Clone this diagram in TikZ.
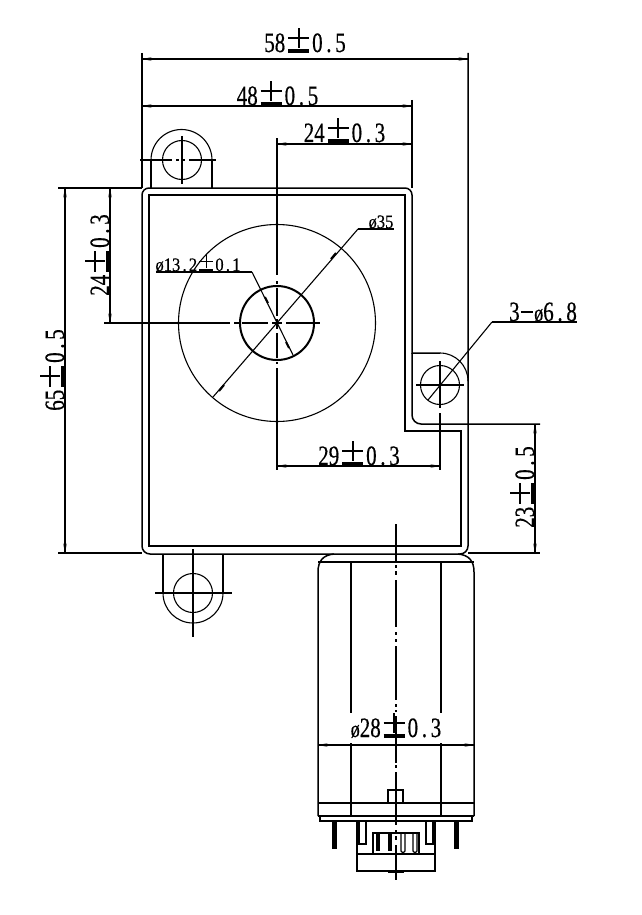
\documentclass[tikz,border=0pt]{standalone}
\usepackage{fontspec}
\usepackage{graphicx}
\usetikzlibrary{arrows.meta}
\newfontfamily\dimfont[FakeStretch=0.75,FakeBold=0.4]{Liberation Serif}
\newfontfamily\smallfont[FakeStretch=0.87,FakeBold=0.3]{Liberation Serif}
\newcommand{\pmk}{\kern.1em\rlap{\rule[-.03em]{.76em}{.13em}}\rlap{\rule[.48em]{.76em}{.06em}}\kern.35em\rule[.15em]{.06em}{.72em}\kern.35em\kern.1em}
\newcommand{\dotk}{\hbox to .45em{\hss.\hss}}
\newcommand{\dashk}{\kern.04em\rule[.3em]{.42em}{.05em}\kern.06em}
\newcommand{\oslk}{{\fontsize{24}{24}\selectfont\dimfont ø}}
\newcommand{\bigdim}[1]{{\fontsize{28}{28}\selectfont\dimfont #1}}
\newcommand{\smalldim}[1]{{\fontsize{19}{19}\selectfont\smallfont #1}}
\newcommand{\dimline}[2]{\draw[tipline] #1 -- #2; \draw[ln] #1 -- #2;}
\tikzset{
  x=1pt,y=-1pt,
  ln/.style={line width=1.5pt,line cap=butt},
  thin ln/.style={line width=1.1pt},
  tipline/.style={line width=0.4pt,draw=gray,{Stealth[length=10pt,width=4pt,gray]}-{Stealth[length=10pt,width=4pt,gray]}},
  lbl/.style={inner sep=0pt,anchor=base},
}
\begin{document}
\begin{tikzpicture}
\useasboundingbox (0,0) rectangle (641,915);
\fill[white] (0,0) rectangle (641,915);

% body outlines
\draw[ln] (142,195) arc[start angle=180,end angle=270,radius=7] -- (405,188) arc[start angle=270,end angle=360,radius=7] -- (412,353) -- (440,353);
\draw[thin ln] (440,353) arc[start angle=270,end angle=360,radius=28];
\draw[ln] (468,53) -- (468,546) arc[start angle=0,end angle=90,radius=8] -- (150,554) arc[start angle=90,end angle=180,radius=8] -- (142,195);
\draw[ln] (149,195) -- (405,195) -- (405,431) -- (461,431) -- (461,546) -- (149,546) -- cycle;
\draw[ln] (412,353) -- (412,415) arc[start angle=180,end angle=90,radius=9] -- (540,424);

% top lug
\draw[ln] (151,188) -- (151,160);
\draw[ln] (212,160) -- (212,188);
\draw[thin ln] (151,160) arc[start angle=180,end angle=360,radius=30.5];
\draw[thin ln] (182,160) circle[radius=19.5];
\draw[ln] (140,160) -- (172,160) (176,160) -- (179,160) (183,160) -- (185,160) (189,160) -- (216,160);
\draw[ln] (182,136) -- (182,184);

% bottom lug
\draw[ln] (163,554) -- (163,593);
\draw[ln] (223,593) -- (223,554);
\draw[thin ln] (163,593) arc[start angle=180,end angle=0,radius=30];
\draw[thin ln] (193,593) circle[radius=19.5];
\draw[ln] (155,593) -- (232,593);
\draw[ln] (193,549) -- (193,637);

% right lug hole
\draw[thin ln] (440,385) circle[radius=19.5];
\draw[ln] (416,385) -- (464,385);
\draw[ln] (440,361) -- (440,408);
\draw[ln] (440,413) -- (440,470);

% central circles
\draw[thin ln] (277,323) circle[radius=98.5];
\draw[line width=2pt] (277,323) circle[radius=37];
\draw[ln] (104,323) -- (230,323) (234,323) -- (239,323) (242,323) -- (268,323) (272,323) -- (282,323) (286,323) -- (320,323);
\draw[ln] (277,138) -- (277,275) (277,281) -- (277,284) (277,288) -- (277,316) (277,319) -- (277,329) (277,333) -- (277,358) (277,362) -- (277,364) (277,368) -- (277,470);

% extension lines
\draw[ln] (142,53) -- (142,188);
\draw[ln] (412,100) -- (412,188);
\draw[ln] (58,188) -- (142,188);
\draw[ln] (58,553) -- (142,553);
\draw[ln] (468,553) -- (540,553);

% dimension lines
\dimline{(142,59)}{(468,59)}
\dimline{(142,106)}{(412,106)}
\dimline{(277,144)}{(412,144)}
\dimline{(65,188)}{(65,553)}
\dimline{(110,188)}{(110,323)}
\dimline{(277,466)}{(440,466)}
\dimline{(535,424)}{(535,553)}
\dimline{(318,745)}{(474,745)}

% leaders
\draw[thin ln] (428,400) -- (492,322);
\draw[ln] (492,322) -- (577,322);
\draw[thin ln] (213,397) -- (358,229);
\draw[ln] (358,229) -- (394,229);
\draw[ln] (156,272) -- (252,272);
\draw[thin ln] (252,272) -- (293,355);
\draw[line width=2pt] (219,391) -- (224,385);
\draw[line width=2pt] (331,259) -- (336,253);
\draw[line width=2pt] (265,297) -- (268,303);
\draw[line width=2pt] (286,342) -- (289,348);

% motor
\draw[ln] (318,816) -- (318,572) .. controls (318,561) and (323,555) .. (334,554);
\draw[ln] (474,816) -- (474,572) .. controls (474,561) and (469,555) .. (458,554);
\draw[ln] (318,562) -- (474,562);
\draw[ln] (318,816) -- (474,816);
\draw[ln] (351,562) -- (351,713) (351,743) -- (351,816);
\draw[ln] (441,562) -- (441,713) (441,743) -- (441,816);
\draw[ln] (318,803) -- (474,803);
\draw[ln] (320,816) -- (320,821) -- (472,821) -- (472,816);
\draw[ln] (388,803) -- (388,790) -- (403,790) -- (403,803);
\draw[ln] (396,524) -- (396,561) (396,565) -- (396,568) (396,571) -- (396,575) (396,580) -- (396,627) (396,632) -- (396,635) (396,639) -- (396,642) (396,646) -- (396,700) (396,704) -- (396,707) (396,710) -- (396,712) (396,716) -- (396,763) (396,765) -- (396,768) (396,772) -- (396,825) (396,830) -- (396,833) (396,836) -- (396,840) (396,845) -- (396,870) (396,872) -- (396,880);
\draw[ln] (388,872) -- (404,872);

% pins
\fill (332,821) rectangle (337,849);
\fill (454,821) rectangle (459,849);

% connector
\draw[ln] (357,821) -- (357,871) -- (435,871) -- (435,821);
\draw[ln] (357,854) -- (435,854);
\draw[ln] (373,854) -- (373,833) -- (419,833) -- (419,854);
\draw[ln] (359,821) -- (359,844) -- (366,844) -- (366,821);
\draw[ln] (426,821) -- (426,844) -- (433,844) -- (433,821);
\fill (376,833) rectangle (380,851);
\fill (388,833) rectangle (392,851);
\draw[line width=1.2pt] (401,833) -- (401,851) -- (403,853) -- (405,851) -- (405,833);
\draw[line width=1.2pt] (413,833) -- (413,851) -- (415,853) -- (417,851) -- (417,833);

% labels
\node[lbl] (d58) at (305,52) {\bigdim{58\pmk 0\dotk 5}};
\node[lbl] (d48) at (277.5,105) {\bigdim{48\pmk 0\dotk 5}};
\node[lbl] (d24h) at (344.5,142) {\bigdim{24\pmk 0\dotk 3}};
\node[lbl,rotate=90] (d65) at (64,370) {\bigdim{65\pmk 0\dotk 5}};
\node[lbl,rotate=90] (d24v) at (109,255) {\bigdim{24\pmk 0\dotk 3}};
\node[lbl] (d29) at (359,465) {\bigdim{29\pmk 0\dotk 3}};
\node[lbl,rotate=90] (d23) at (534,487) {\bigdim{23\pmk 0\dotk 5}};
\node[lbl] (d28) at (396,737) {\bigdim{\oslk 28\pmk 0\dotk 3}};
\node[lbl] (d3) at (543,321) {\bigdim{3\dashk\oslk 6\dotk 8}};
\node[lbl] (d35) at (381,228) {\smalldim{ø35}};
\node[lbl] (d13) at (198,271) {\smalldim{ø13\dotk 2\pmk 0\dotk 1}};
\end{tikzpicture}
\end{document}
